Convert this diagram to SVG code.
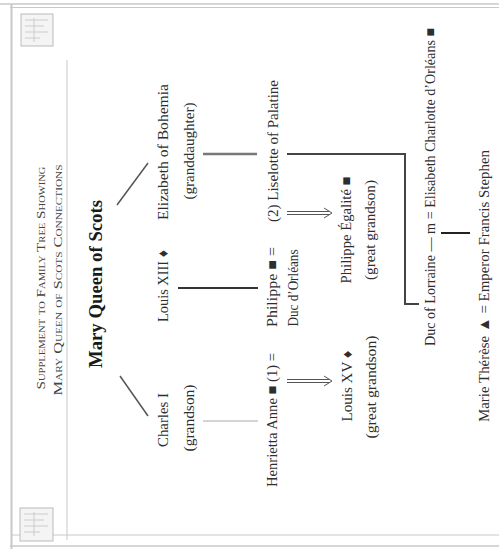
<svg xmlns="http://www.w3.org/2000/svg" width="499" height="559" viewBox="0 0 499 559">
<style>
  text { font-family: "Liberation Serif", "Times New Roman", serif; fill: #2e2e2e; text-anchor: middle; }
  .t { font-size: 14px; }
  .big { font-size: 15px; }
  .title { font-size: 13px; font-variant: small-caps; fill: #444; }
  .mary { font-size: 19px; font-weight: bold; fill: #1a1a1a; }
  .frame { stroke: #c8c8c8; fill: none; }
  .icon { stroke: #bbb; fill: #f4f4f4; stroke-width: 1; }
  .iconline { stroke: #ccc; stroke-width: 1; fill: none; }
  .dbl { stroke: #555; stroke-width: 1; fill: none; }
</style>
<rect x="0" y="0" width="499" height="559" fill="#ffffff"/>
<g id="page-frame">
  <line class="frame" x1="0" y1="4" x2="499" y2="4" stroke-width="1.5"/>
  <line class="frame" x1="10" y1="7.5" x2="499" y2="7.5" stroke-width="1"/>
  <line class="frame" x1="11.5" y1="4" x2="11.5" y2="549" stroke-width="2"/>
  <line class="frame" x1="12" y1="535" x2="499" y2="535" stroke-width="1" stroke="#e4e4e4"/>
  <line class="frame" x1="10" y1="546" x2="499" y2="546" stroke-width="1.5"/>
  <line class="frame" x1="67" y1="60" x2="67" y2="540" stroke="#f0f0f0" stroke-width="1"/>
</g>
<g id="corner-icons">
  <rect class="icon" x="21" y="14" width="32" height="32"/>
  <path class="iconline" d="M25,20 H48 M25,26 H44 M25,32 H48 M25,38 H40 M34,18 V42"/>
  <rect class="icon" x="20" y="508" width="33" height="33"/>
  <path class="iconline" d="M24,514 H48 M24,520 H44 M24,526 H48 M24,532 H40 M34,512 V536"/>
</g>
<g id="connectors" fill="none">
  <line x1="117" y1="205" x2="148" y2="163" stroke="#555" stroke-width="1.5"/>
  <line x1="120" y1="376" x2="148" y2="416" stroke="#555" stroke-width="1.5"/>
  <line x1="203" y1="154" x2="257" y2="154" stroke="#777" stroke-width="2.5"/>
  <polyline points="287,154 405,154 405,304 419,304" stroke="#444" stroke-width="2"/>
  <line x1="178" y1="288" x2="258" y2="288" stroke="#333" stroke-width="2"/>
  <line x1="203" y1="421" x2="258" y2="421" stroke="#aaa" stroke-width="1"/>
  <line x1="441" y1="233" x2="470" y2="233" stroke="#222" stroke-width="2"/>
  <g id="arrow-egalite">
    <line class="dbl" x1="287" y1="211.5" x2="329" y2="211.5"/>
    <line class="dbl" x1="287" y1="214.5" x2="329" y2="214.5"/>
    <path class="dbl" d="M324,208 L332,213 L324,218" stroke-width="1.2"/>
  </g>
  <g id="arrow-louis15">
    <line class="dbl" x1="287" y1="379.5" x2="329" y2="379.5"/>
    <line class="dbl" x1="287" y1="382.5" x2="329" y2="382.5"/>
    <path class="dbl" d="M324,376 L332,381 L324,386" stroke-width="1.2"/>
  </g>
</g>
<g id="title">
  <text class="title" transform="translate(45,278) rotate(-90)" textLength="223" lengthAdjust="spacingAndGlyphs">Supplement to Family Tree Showing</text>
  <text class="title" transform="translate(62,280) rotate(-90)" textLength="231" lengthAdjust="spacingAndGlyphs">Mary Queen of Scots Connections</text>
</g>
<g id="mary-queen-of-scots">
  <text class="mary" transform="translate(102,284) rotate(-90)" textLength="168" lengthAdjust="spacingAndGlyphs">Mary Queen of Scots</text>
</g>
<g id="elizabeth-of-bohemia">
  <text class="big" transform="translate(168,152) rotate(-90)" textLength="136" lengthAdjust="spacingAndGlyphs">Elizabeth of Bohemia</text>
  <text class="big" transform="translate(194,151) rotate(-90)" textLength="97" lengthAdjust="spacingAndGlyphs">(granddaughter)</text>
</g>
<g id="louis-xiii">
  <text class="big" transform="translate(168,286) rotate(-90)" textLength="72" lengthAdjust="spacingAndGlyphs">Louis XIII ♦</text>
</g>
<g id="charles-i">
  <text class="big" transform="translate(168,420) rotate(-90)" textLength="54" lengthAdjust="spacingAndGlyphs">Charles I</text>
  <text class="big" transform="translate(194,418) rotate(-90)" textLength="67" lengthAdjust="spacingAndGlyphs">(grandson)</text>
</g>
<g id="liselotte">
  <text class="t" transform="translate(278,151) rotate(-90)" textLength="142" lengthAdjust="spacingAndGlyphs">(2) Liselotte of Palatine</text>
</g>
<g id="philippe-orleans">
  <text class="t" transform="translate(277,287) rotate(-90)" textLength="80" lengthAdjust="spacingAndGlyphs">Philippe ■ =</text>
  <text class="t" transform="translate(298,288) rotate(-90)" textLength="77" lengthAdjust="spacingAndGlyphs">Duc d’Orléans</text>
</g>
<g id="henrietta">
  <text class="t" transform="translate(277,420) rotate(-90)" textLength="134" lengthAdjust="spacingAndGlyphs">Henrietta Anne ■ (1) =</text>
</g>
<g id="philippe-egalite">
  <text class="t" transform="translate(351,230) rotate(-90)" textLength="107" lengthAdjust="spacingAndGlyphs">Philippe Égalité ■</text>
  <text class="t" transform="translate(375,230) rotate(-90)" textLength="100" lengthAdjust="spacingAndGlyphs">(great grandson)</text>
</g>
<g id="louis-xv">
  <text class="t" transform="translate(352,386) rotate(-90)" textLength="71" lengthAdjust="spacingAndGlyphs">Louis XV ♦</text>
  <text class="t" transform="translate(376,387) rotate(-90)" textLength="103" lengthAdjust="spacingAndGlyphs">(great grandson)</text>
</g>
<g id="duc-de-lorraine">
  <text class="t" transform="translate(435,187) rotate(-90)" textLength="318" lengthAdjust="spacingAndGlyphs">Duc of Lorraine — m = Elisabeth Charlotte d’Orléans ■</text>
</g>
<g id="maria-theresa">
  <text class="big" transform="translate(489,286) rotate(-90)" textLength="272" lengthAdjust="spacingAndGlyphs">Marie Thérèse ▲ = Emperor Francis Stephen</text>
</g>
</svg>
